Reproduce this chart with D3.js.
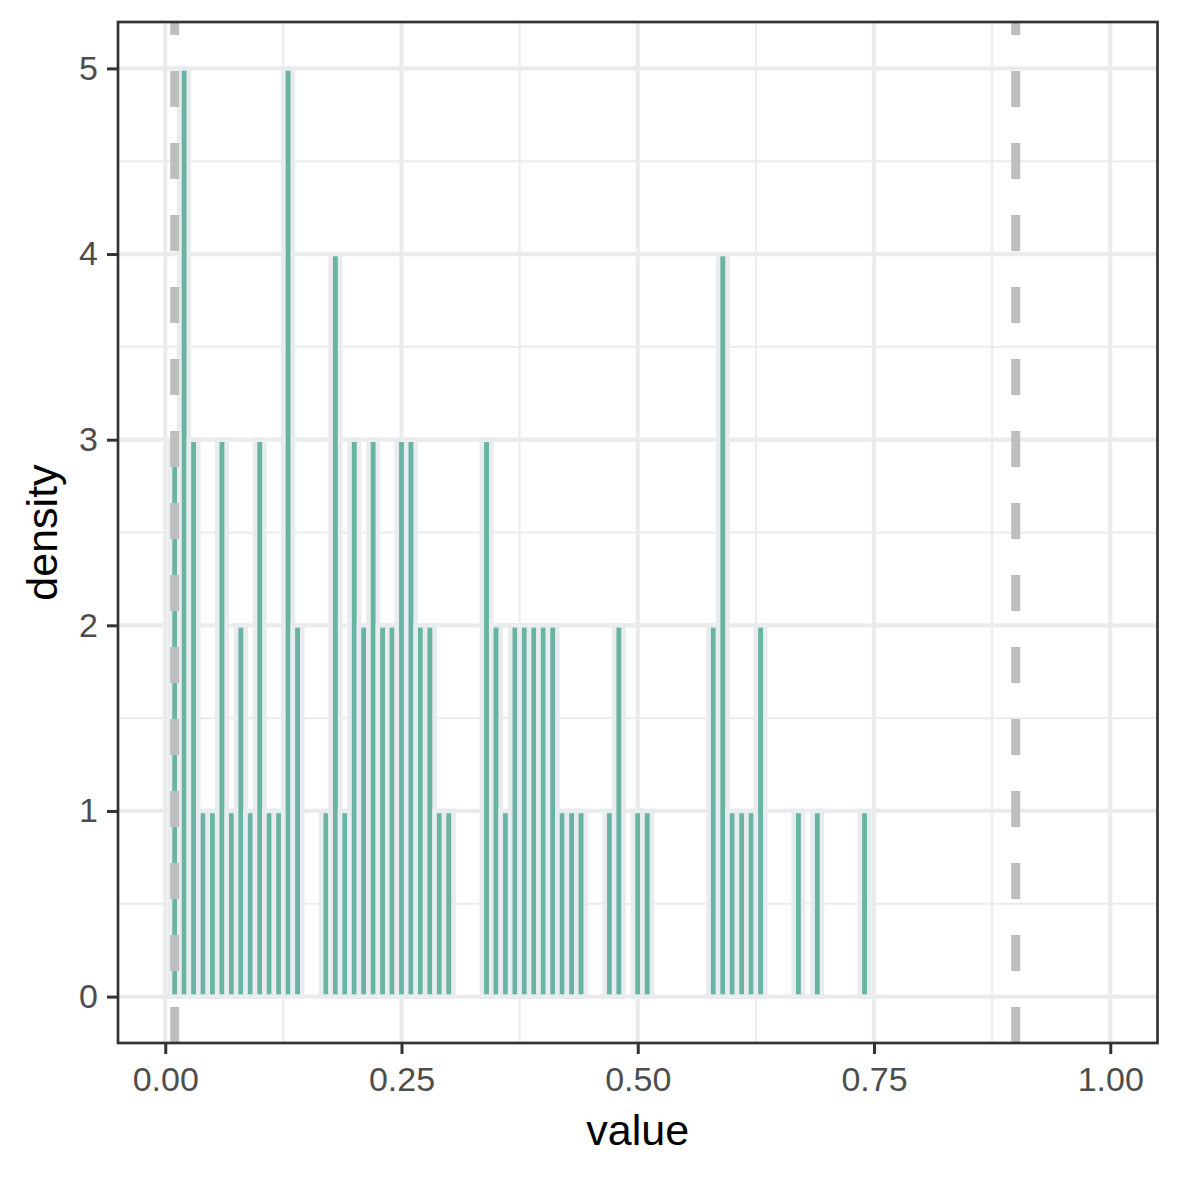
<!DOCTYPE html>
<html>
<head>
<meta charset="utf-8">
<script src="https://cdn.jsdelivr.net/npm/d3@7"></script>
<style>
  body { margin: 0; background: #fff; }
  svg { display: block; }
</style>
</head>
<body>
<div id="chart"></div>
<script>

// bin centres (binwidth 0.01)
const binCenters = [
  0.01, 0.02, 0.03, 0.04, 0.05, 0.06, 0.07, 0.08, 0.09, 0.10,
  0.11, 0.12, 0.13, 0.14, 0.15, 0.16, 0.17, 0.18, 0.19, 0.20,
  0.21, 0.22, 0.23, 0.24, 0.25, 0.26, 0.27, 0.28, 0.29, 0.30,
  0.31, 0.32, 0.33, 0.34, 0.35, 0.36, 0.37, 0.38, 0.39, 0.40,
  0.41, 0.42, 0.43, 0.44, 0.45, 0.46, 0.47, 0.48, 0.49, 0.50,
  0.51, 0.52, 0.53, 0.54, 0.55, 0.56, 0.57, 0.58, 0.59, 0.60,
  0.61, 0.62, 0.63, 0.64, 0.65, 0.66, 0.67, 0.68, 0.69, 0.70,
  0.71, 0.72, 0.73, 0.74, 0.75, 0.76, 0.77, 0.78, 0.79, 0.80,
  0.81, 0.82, 0.83, 0.84, 0.85, 0.86, 0.87, 0.88, 0.89, 0.90,
  0.91, 0.92, 0.93, 0.94, 0.95, 0.96, 0.97, 0.98, 0.99
];
const binWidth = 0.01;

const densities = [
  3, 5, 3, 1, 1, 3, 1, 2, 1, 3,
  1, 1, 5, 2, 0, 0, 1, 4, 1, 3,
  2, 3, 2, 2, 3, 3, 2, 2, 1, 1,
  0, 0, 0, 3, 2, 1, 2, 2, 2, 2,
  2, 1, 1, 1, 0, 0, 1, 2, 0, 1,
  1, 0, 0, 0, 0, 0, 0, 2, 4, 1,
  1, 1, 2, 0, 0, 0, 1, 0, 1, 0,
  0, 0, 0, 1, 0, 0, 0, 0, 0, 0,
  0, 0, 0, 0, 0, 0, 0, 0, 0, 0,
  0, 0, 0, 0, 0, 0, 0, 0, 0
];

// dashed reference lines
const vlines = [0.01, 0.9];

const xTicks = [0, 0.25, 0.5, 0.75, 1];
const xMinor = [0.125, 0.375, 0.625, 0.875];
const yTicks = [0, 1, 2, 3, 4, 5];
const yMinor = [0.5, 1.5, 2.5, 3.5, 4.5];

const width = 1180, height = 1180;
const margin = {top: 22, right: 22.5, bottom: 137, left: 118};
const w = width - margin.left - margin.right;
const h = height - margin.top - margin.bottom;

const svg = d3.select('#chart').append('svg')
    .attr('width', width)
    .attr('height', height);

const x = d3.scaleLinear()
    .domain([-0.05, 1.05])
    .range([0, w]);

const y = d3.scaleLinear()
    .domain([-0.25, 5.25])
    .range([h, 0]);

const g = svg.append('g')
    .attr('transform', `translate(${margin.left},${margin.top})`);

// grid
g.append('g').selectAll('line')
  .data(xMinor)
  .join('line')
    .attr('x1', d => x(d)).attr('x2', d => x(d))
    .attr('y1', 0).attr('y2', h)
    .attr('stroke', '#ebebeb')
    .attr('stroke-width', 2);

g.append('g').selectAll('line')
  .data(yMinor)
  .join('line')
    .attr('x1', 0).attr('x2', w)
    .attr('y1', d => y(d)).attr('y2', d => y(d))
    .attr('stroke', '#ebebeb')
    .attr('stroke-width', 2);

g.append('g').selectAll('line')
  .data(xTicks)
  .join('line')
    .attr('x1', d => x(d)).attr('x2', d => x(d))
    .attr('y1', 0).attr('y2', h)
    .attr('stroke', '#ebebeb')
    .attr('stroke-width', 4.2);

g.append('g').selectAll('line')
  .data(yTicks)
  .join('line')
    .attr('x1', 0).attr('x2', w)
    .attr('y1', d => y(d)).attr('y2', d => y(d))
    .attr('stroke', '#ebebeb')
    .attr('stroke-width', 4.2);

// histogram bars
const bins = binCenters.map((c, i) => ({x0: c - binWidth / 2, x1: c + binWidth / 2, v: densities[i]}));

g.append('g').selectAll('rect')
  .data(bins)
  .join('rect')
    .attr('x', d => x(d.x0))
    .attr('y', d => y(d.v))
    .attr('width', d => x(d.x1) - x(d.x0))
    .attr('height', d => y(0) - y(d.v))
    .attr('fill', '#69b3a2')
    .attr('stroke', '#e9ecef')
    .attr('stroke-width', 4.6);

// dashed lines, drawn bottom to top like the R device
svg.append('clipPath').attr('id', 'panel')
  .append('rect').attr('width', w).attr('height', h);

g.append('g')
    .attr('clip-path', 'url(#panel)')
  .selectAll('line')
  .data(vlines)
  .join('line')
    .attr('x1', d => x(d)).attr('x2', d => x(d))
    .attr('y1', h).attr('y2', 0)
    .attr('stroke', '#bebebe')
    .attr('stroke-width', 9)
    .attr('stroke-dasharray', '36 36');

// panel border
g.append('rect')
    .attr('width', w)
    .attr('height', h)
    .attr('fill', 'none')
    .attr('stroke', '#333333')
    .attr('stroke-width', 2.7);

// axes
const xAxis = g.append('g')
    .attr('transform', `translate(0,${h})`)
    .call(d3.axisBottom(x).tickValues(xTicks).tickFormat(d3.format('.2f')).tickSize(11).tickPadding(13));

const yAxis = g.append('g')
    .call(d3.axisLeft(y).tickValues(yTicks).tickFormat(d3.format('d')).tickSize(11).tickPadding(9));

[xAxis, yAxis].forEach(a => {
  a.select('.domain').remove();
  a.selectAll('.tick line').attr('stroke', '#333333').attr('stroke-width', 3);
  a.selectAll('.tick text')
    .attr('fill', '#4d4d4d')
    .attr('font-family', 'Liberation Sans, Arial, sans-serif')
    .attr('font-size', 34);
});

// titles
svg.append('text')
    .attr('x', margin.left + w / 2)
    .attr('y', 1145)
    .attr('text-anchor', 'middle')
    .attr('font-family', 'Liberation Sans, Arial, sans-serif')
    .attr('font-size', 43)
    .attr('fill', '#000')
    .text('value');

svg.append('text')
    .attr('transform', `translate(57,${margin.top + h / 2}) rotate(-90)`)
    .attr('text-anchor', 'middle')
    .attr('font-family', 'Liberation Sans, Arial, sans-serif')
    .attr('font-size', 43)
    .attr('fill', '#000')
    .text('density');

</script>
</body>
</html>
